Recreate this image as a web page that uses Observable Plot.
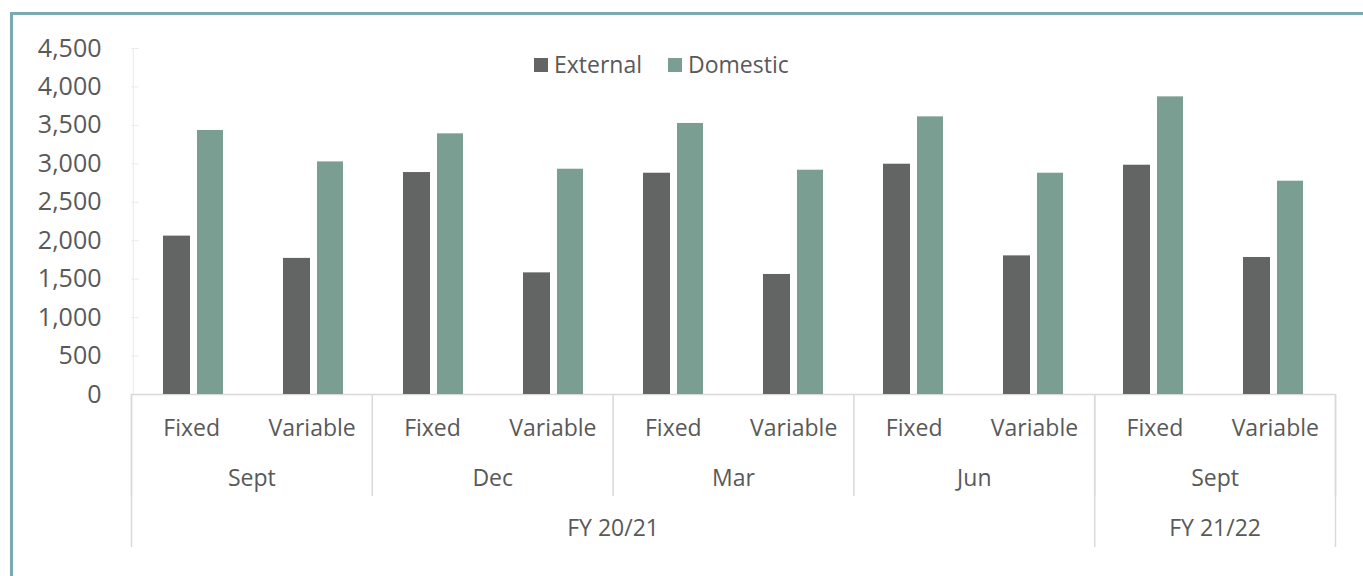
<!DOCTYPE html>
<html>
<head>
<meta charset="utf-8">
<script src="https://cdn.jsdelivr.net/npm/d3@7"></script>
<script src="https://cdn.jsdelivr.net/npm/@observablehq/plot@0.6"></script>
<style>
  html, body { margin: 0; padding: 0; background: #fff; }
  body { width: 1363px; height: 576px; overflow: hidden; position: relative; font-family: "Open Sans", sans-serif; }
  #border { position: absolute; left: 10px; top: 12px; width: 1400px; height: 700px; border-left: 3px solid #7aabb0; border-top: 3px solid #7aabb0; box-sizing: border-box; pointer-events: none; }
  #chart svg { display: block; }
  #legend { position: absolute; left: 534px; top: 53px; display: flex; align-items: center; font-size: 23px; color: #595959; line-height: 1; }
  #legend .item { display: flex; align-items: center; margin-right: 26px; }
  #legend .sw { width: 14px; height: 14px; margin-right: 6px; }
</style>
</head>
<body>
<div id="chart"></div>
<div id="legend"></div>
<div id="border"></div>
<script>
// ---- Data ----
const fiscalYears = ["FY 20/21", "FY 20/21", "FY 20/21", "FY 20/21", "FY 21/22"];
const months = ["Sept", "Dec", "Mar", "Jun", "Sept"];
const rateTypes = ["Fixed", "Variable"];
const series = ["External", "Domestic"];
const seriesColors = ["#636564", "#7a9e92"];
const externalValues = [2060, 1770, 2887, 1582, 2878, 1561, 2995, 1803, 2982, 1782];
const domesticValues = [3434, 3025, 3390, 2930, 3525, 2917, 3611, 2878, 3871, 2774];
const yTicks = [0, 500, 1000, 1500, 2000, 2500, 3000, 3500, 4000, 4500];

// ---- Build table ----
const groups = [];
months.forEach((m, mi) => {
  rateTypes.forEach((t, ti) => {
    const i = mi * rateTypes.length + ti;
    groups.push({
      key: `${fiscalYears[mi]}|${m}|${mi}|${t}`,
      index: i, monthIndex: mi, month: m, fy: fiscalYears[mi], type: t,
      External: externalValues[i], Domestic: domesticValues[i]
    });
  });
});
const keys = groups.map(d => d.key);
const nGroups = groups.length;

const W = 1363, mL = 131, mR = 28;
const bw = (W - mL - mR) / nGroups;
const textColor = "#595959";
const lineColor = "#d9d9d9";

// ---- Main plot ----
const main = Plot.plot({
  width: W, height: 394,
  marginLeft: mL, marginRight: mR, marginTop: 48, marginBottom: 0,
  style: {fontFamily: "'Open Sans', sans-serif", background: "transparent", overflow: "visible"},
  x: {type: "band", domain: keys, padding: 0, axis: null},
  y: {domain: [0, 4500], axis: null},
  marks: [
    Plot.ruleY(yTicks, {stroke: "#ececec", insetRight: (W - mL - mR) - 8}),
    Plot.ruleX([keys[0]], {stroke: "#ececec", dx: -bw / 2}),
    Plot.axisY({ticks: yTicks, tickFormat: d3.format(","), tickSize: 0, tickPadding: 30,
      fontSize: 25, fill: textColor, label: null}),
    Plot.ruleY([0], {stroke: lineColor, strokeWidth: 1.5}),
    Plot.barY(groups, {x: "key", y: "External", fill: seriesColors[0], insetLeft: 30, insetRight: 63}),
    Plot.barY(groups, {x: "key", y: "Domestic", fill: seriesColors[1], insetLeft: 64, insetRight: 30})
  ]
});

// ---- Hierarchical category axis (below) ----
const levels = ["type", "month", "fy"];
const monthSpans = months.map((m, mi) => ({label: m, start: mi * rateTypes.length, end: (mi + 1) * rateTypes.length}));
const fySpans = [];
monthSpans.forEach((s, mi) => {
  const fy = fiscalYears[mi];
  const last = fySpans[fySpans.length - 1];
  if (last && last.label === fy) last.end = s.end;
  else fySpans.push({label: fy, start: s.start, end: s.end});
});
const monthBounds = Array.from(new Set(monthSpans.flatMap(s => [s.start, s.end])));
const fyBounds = Array.from(new Set(fySpans.flatMap(s => [s.start, s.end])));

const bottom = Plot.plot({
  width: W, height: 182,
  marginLeft: mL, marginRight: mR, marginTop: 0, marginBottom: 29,
  style: {fontFamily: "'Open Sans', sans-serif", background: "transparent", overflow: "visible"},
  x: {type: "linear", domain: [0, nGroups], axis: null},
  y: {type: "band", domain: levels, padding: 0, axis: null},
  marks: [
    Plot.ruleX(monthBounds, {x: d => d, y1: () => "type", y2: () => "month", stroke: lineColor, strokeWidth: 1.5}),
    Plot.ruleX(fyBounds, {x: d => d, y1: () => "type", y2: () => "fy", stroke: lineColor, strokeWidth: 1.5}),
    Plot.text(groups, {x: d => d.index + 0.5, y: () => "type", text: "type", fontSize: 23, fill: textColor, dy: 9}),
    Plot.text(monthSpans, {x: d => (d.start + d.end) / 2, y: () => "month", text: "label", fontSize: 23, fill: textColor, dy: 8}),
    Plot.text(fySpans, {x: d => (d.start + d.end) / 2, y: () => "fy", text: "label", fontSize: 23, fill: textColor, dy: 7})
  ]
});

const chart = document.getElementById("chart");
chart.appendChild(main);
chart.appendChild(bottom);

// ---- Legend ----
const legend = document.getElementById("legend");
series.forEach((s, i) => {
  const item = document.createElement("div");
  item.className = "item";
  const sw = document.createElement("div");
  sw.className = "sw";
  sw.style.background = seriesColors[i];
  const label = document.createElement("span");
  label.textContent = s;
  item.appendChild(sw);
  item.appendChild(label);
  legend.appendChild(item);
});
</script>
</body>
</html>
